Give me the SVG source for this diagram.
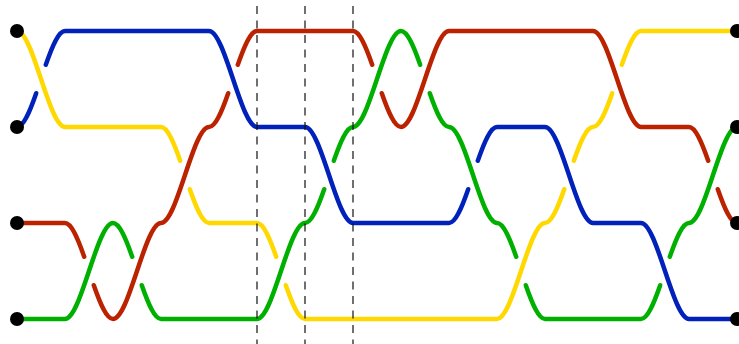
<svg xmlns="http://www.w3.org/2000/svg" width="739" height="344" viewBox="0 0 739 344">
<style>
.s{fill:none;stroke-width:4.5;stroke-linecap:round;stroke-linejoin:round}
.y{stroke:#ffd800}.b{stroke:#0022bb}.r{stroke:#bb2200}.g{stroke:#00b000}
.d{fill:#000}
.dash{stroke:#111;stroke-width:1.2;stroke-dasharray:8 6.5;stroke-dashoffset:8.5}
</style>
<rect width="739" height="344" fill="#fff"/>
<g id="connectors">
<g id="yellow">
<path class="s y" d="M17,31 C33,31 49,127 65,127 L161,127 C167.4,127 173.8,142.36 180.2,160.79"/>
<path class="s y" d="M189.8,189.21 C196.2,207.64 202.6,223 209,223 L257,223 C263.4,223 269.8,238.36 276.2,256.79"/>
<path class="s y" d="M285.8,285.21 C292.2,303.64 298.6,319 305,319 L497,319 C513,319 529,223 545,223 C551.4,223 557.8,207.64 564.2,189.21"/>
<path class="s y" d="M573.8,160.79 C580.2,142.36 586.6,127 593,127 C599.4,127 605.8,111.64 612.2,93.21"/>
<path class="s y" d="M621.8,64.79 C628.2,46.36 634.6,31 641,31 L737,31"/>
</g>
<g id="blue">
<path class="s b" d="M17,127 C23.4,127 29.8,111.64 36.2,93.21"/>
<path class="s b" d="M45.8,64.79 C52.2,46.36 58.6,31 65,31 L209,31 C225,31 241,127 257,127 L305,127 C321,127 337,223 353,223 L449,223 C455.4,223 461.8,207.64 468.2,189.21"/>
<path class="s b" d="M477.8,160.79 C484.2,142.36 490.6,127 497,127 L545,127 C561,127 577,223 593,223 L641,223 C657,223 673,319 689,319 L737,319"/>
</g>
<g id="red">
<path class="s r" d="M17,223 L65,223 C71.4,223 77.8,238.36 84.2,256.79"/>
<path class="s r" d="M93.8,285.21 C100.2,303.64 106.6,319 113,319 C129,319 145,223 161,223 C177,223 193,127 209,127 C215.4,127 221.8,111.64 228.2,93.21"/>
<path class="s r" d="M237.8,64.79 C244.2,46.36 250.6,31 257,31 L353,31 C359.4,31 365.8,46.36 372.2,64.79"/>
<path class="s r" d="M381.8,93.21 C388.2,111.64 394.6,127 401,127 C417,127 433,31 449,31 L593,31 C609,31 625,127 641,127 L689,127 C695.4,127 701.8,142.36 708.2,160.79"/>
<path class="s r" d="M717.8,189.21 C724.2,207.64 730.6,223 737,223"/>
</g>
<g id="green">
<path class="s g" d="M17,319 L65,319 C81,319 97,223 113,223 C119.4,223 125.8,238.36 132.2,256.79"/>
<path class="s g" d="M141.8,285.21 C148.2,303.64 154.6,319 161,319 L257,319 C273,319 289,223 305,223 C311.4,223 317.8,207.64 324.2,189.21"/>
<path class="s g" d="M333.8,160.79 C340.2,142.36 346.6,127 353,127 C369,127 385,31 401,31 C407.4,31 413.8,46.36 420.2,64.79"/>
<path class="s g" d="M429.8,93.21 C436.2,111.64 442.6,127 449,127 C465,127 481,223 497,223 C503.4,223 509.8,238.36 516.2,256.79"/>
<path class="s g" d="M525.8,285.21 C532.2,303.64 538.6,319 545,319 L641,319 C647.4,319 653.8,303.64 660.2,285.21"/>
<path class="s g" d="M669.8,256.79 C676.2,238.36 682.6,223 689,223 C705,223 721,127 737,127"/>
</g>
</g>
<g id="guides">
<line class="dash" x1="257" y1="0" x2="257" y2="344"/>
<line class="dash" x1="305" y1="0" x2="305" y2="344"/>
<line class="dash" x1="353" y1="0" x2="353" y2="344"/>
</g>
<g id="left-1"><circle class="d" cx="17" cy="31" r="7"/></g>
<g id="left-2"><circle class="d" cx="17" cy="127" r="7"/></g>
<g id="left-3"><circle class="d" cx="17" cy="223" r="7"/></g>
<g id="left-4"><circle class="d" cx="17" cy="319" r="7"/></g>
<g id="right-1"><circle class="d" cx="737" cy="31" r="7"/></g>
<g id="right-2"><circle class="d" cx="737" cy="127" r="7"/></g>
<g id="right-3"><circle class="d" cx="737" cy="223" r="7"/></g>
<g id="right-4"><circle class="d" cx="737" cy="319" r="7"/></g>
</svg>
